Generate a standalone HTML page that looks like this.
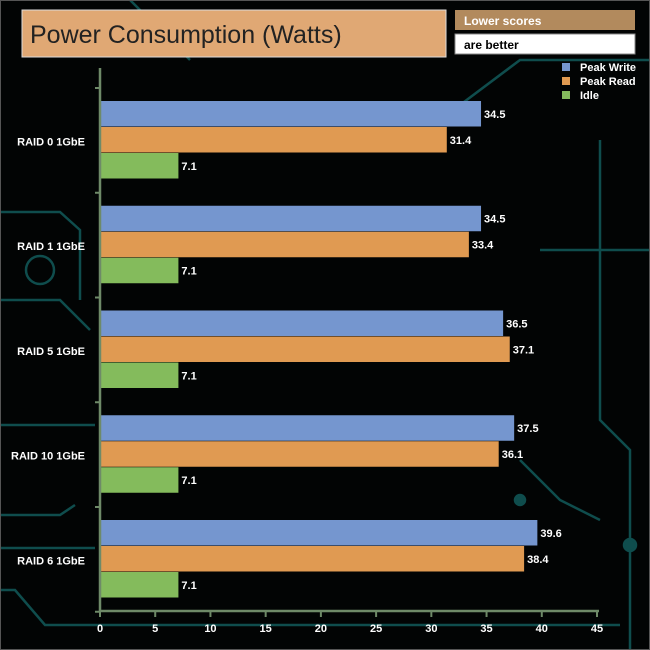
<!DOCTYPE html>
<html><head><meta charset="utf-8"><style>
body{margin:0;background:#000}
svg{display:block;font-family:"Liberation Sans",Arial,sans-serif}
</style></head><body>
<svg width="650" height="650" viewBox="0 0 650 650">
<rect x="0" y="0" width="650" height="650" fill="#020404"/>
<g stroke="#0f4d4d" stroke-width="2.5" fill="none">
<path d="M0 212 H60 L80 230 V300"/><path d="M0 590 H15 L45 625 H620"/><path d="M0 548 H95"/><path d="M0 515 H60 L75 505"/>
<path d="M440 120 L520 60 H650"/><path d="M600 140 V420 L630 450 V650"/><path d="M520 460 L560 500 L600 520"/>
<path d="M0 425 H95"/><path d="M0 300 H60 L90 330"/><path d="M130 0 L190 60"/><path d="M540 250 H650"/>
<circle cx="40" cy="270" r="14"/><circle cx="630" cy="545" r="6" fill="#0f4d4d"/><circle cx="520" cy="500" r="5" fill="#0f4d4d"/>
</g>
<rect x="0.5" y="0.5" width="649" height="649" fill="none" stroke="#555"/>
<rect x="22" y="10" width="424" height="47" fill="#e0a874" stroke="#ddd" stroke-width="1"/>
<text x="30" y="43" font-size="25" fill="#222">Power Consumption (Watts)</text>
<rect x="455" y="10" width="180" height="20" fill="#b28a5d"/>
<text x="464" y="25" font-size="12" font-weight="bold" fill="#fff">Lower scores</text>
<rect x="455" y="34" width="180" height="20" fill="#fff" stroke="#888"/>
<text x="464" y="49" font-size="12" font-weight="bold" fill="#000">are better</text>
<g id="legend" font-size="11" font-weight="bold" fill="#fff"></g>
<g id="chart"></g>
</svg>
<script>
const categories=["RAID 0 1GbE","RAID 1 1GbE","RAID 5 1GbE","RAID 10 1GbE","RAID 6 1GbE"];
const seriesNames=["Peak Write","Peak Read","Idle"];
const peakWrite=[34.5,34.5,36.5,37.5,39.6];
const peakRead=[31.4,33.4,37.1,36.1,38.4];
const idle=[7.1,7.1,7.1,7.1,7.1];
const xTicks=[0,5,10,15,20,25,30,35,40,45];
const colors=["#7596cf","#e09a52","#84bb5c"];
const NS="http://www.w3.org/2000/svg";
const X0=100,X1=597,XMAX=45,Y0=88,BAND=104.75,BH=25.5,AXY=611;
const x=v=>X0+v/XMAX*(X1-X0);
const g=document.getElementById('chart');
function mk(t,a,p){const e=document.createElementNS(NS,t);for(const k in a)e.setAttribute(k,a[k]);(p||g).appendChild(e);return e;}
const series=[peakWrite,peakRead,idle];
categories.forEach((c,i)=>{
  const top=Y0+i*BAND+13;
  series.forEach((s,j)=>{
    const y=top+j*(BH+0.5);
    const r=mk('rect',{x:X0+1,y:y,width:x(s[i])-X0-1,height:BH,fill:colors[j]});
    
    
    const t=mk('text',{x:x(s[i])+3,y:y+BH/2+4,'font-size':11,'font-weight':'bold',fill:'#fff'});
    t.textContent=s[i];
    
    
  });
  const l=mk('text',{x:85,y:Y0+i*BAND+BAND/2+5,'font-size':11,'font-weight':'bold',fill:'#fff','text-anchor':'end'});
  l.textContent=c;
  
  
});
const ax=mk('path',{d:`M${X0} ${Y0-20} V${AXY} H${X1+2}`,stroke:'#6e8a68','stroke-width':2.5,fill:'none'});


for(let i=0;i<=categories.length;i++){
  const tk=mk('line',{x1:X0-5,x2:X0,y1:Y0+i*BAND,y2:Y0+i*BAND,stroke:'#6e8a68','stroke-width':2});
  
  
}
xTicks.forEach(v=>{
  const tk=mk('line',{x1:x(v),x2:x(v),y1:AXY,y2:AXY+6,stroke:'#6e8a68','stroke-width':2});
  
  
  const t=mk('text',{x:x(v),y:AXY+21,'font-size':11,'font-weight':'bold',fill:'#fff','text-anchor':'middle'});
  t.textContent=v;
  
  
});
const lg=document.getElementById('legend');
seriesNames.forEach((n,j)=>{
  const r=mk('rect',{x:562,y:63+j*14,width:8,height:8,fill:colors[j]},lg);
  
  
  const t=mk('text',{x:580,y:71+j*14},lg);
  t.textContent=n;
  
  
});
</script>
</body></html>
